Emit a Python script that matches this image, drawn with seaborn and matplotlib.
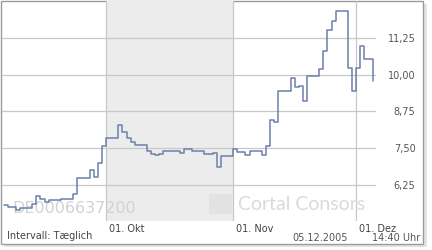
import matplotlib
matplotlib.use("Agg")
import matplotlib.pyplot as plt
import matplotlib.transforms as mtrans
from matplotlib.patches import Rectangle
import pandas as pd
import seaborn as sns

# ---- data ----
dates = ["2005-09-06", "2005-09-07", "2005-09-09", "2005-09-10", "2005-09-13",
         "2005-09-14", "2005-09-15", "2005-09-16", "2005-09-17", "2005-09-20",
         "2005-09-23", "2005-09-24", "2005-09-27", "2005-09-28", "2005-09-29",
         "2005-09-30", "2005-10-01", "2005-10-04", "2005-10-05", "2005-10-06",
         "2005-10-07", "2005-10-08", "2005-10-11", "2005-10-12", "2005-10-13",
         "2005-10-14", "2005-10-15", "2005-10-19", "2005-10-20", "2005-10-22",
         "2005-10-25", "2005-10-27", "2005-10-28", "2005-10-29", "2005-11-01",
         "2005-11-02", "2005-11-04", "2005-11-05", "2005-11-08", "2005-11-09",
         "2005-11-10", "2005-11-11", "2005-11-12", "2005-11-15", "2005-11-16",
         "2005-11-17", "2005-11-18", "2005-11-19", "2005-11-22", "2005-11-23",
         "2005-11-24", "2005-11-25", "2005-11-26", "2005-11-29", "2005-11-30",
         "2005-12-01", "2005-12-02", "2005-12-03", "2005-12-05"]
prices = [5.57, 5.50, 5.40, 5.47, 5.60,
          5.88, 5.77, 5.67, 5.74, 5.77,
          5.94, 6.49, 6.76, 6.52, 7.00,
          7.58, 7.85, 8.29, 8.05, 7.85,
          7.71, 7.61, 7.41, 7.30, 7.27,
          7.30, 7.41, 7.34, 7.47, 7.41,
          7.30, 7.34, 6.86, 7.24, 7.47,
          7.37, 7.27, 7.41, 7.27, 7.58,
          8.46, 8.39, 9.45, 9.89, 9.58,
          9.62, 9.11, 9.96, 10.20, 10.81,
          11.52, 11.83, 12.17, 10.23, 9.45,
          10.23, 10.98, 10.54, 9.79]
y_ticks = [6.25, 7.50, 8.75, 10.00, 11.25]
y_tick_labels = ["6,25", "7,50", "8,75", "10,00", "11,25"]
x_ticks = ["2005-10-01", "2005-11-01", "2005-12-01"]
x_tick_labels = ["01. Okt", "01. Nov", "01. Dez"]
shade_start, shade_end = "2005-10-01", "2005-11-01"
watermark_isin = "DE0006637200"
watermark_brand = "Cortal Consors"
footer_interval = "Intervall: Tæglich"
footer_date = "05.12.2005"
footer_time = "14:40 Uhr"

df = pd.DataFrame({"date": pd.to_datetime(dates), "price": prices})

sns.set_theme(style="white")
plt.rcParams["font.family"] = ["DejaVu Sans"]

W, H = 432, 250
fig = plt.figure(figsize=(W / 100, H / 100), dpi=100)
fig.patch.set_facecolor("white")

def fx(px):
    return px / W

def fy(py):
    return 1 - py / H

# outer card frame with shadow
fig.patches.append(Rectangle((fx(423), fy(247)), fx(4), (247 - 4) / H,
                             transform=fig.transFigure, facecolor="#e4e4e4",
                             edgecolor="none", zorder=-3))
fig.patches.append(Rectangle((fx(4), fy(247)), fx(423), 4 / H,
                             transform=fig.transFigure, facecolor="#e4e4e4",
                             edgecolor="none", zorder=-3))
fig.patches.append(Rectangle((fx(0.5), fy(243.5)), fx(422), 243 / H,
                             transform=fig.transFigure, facecolor="white",
                             edgecolor="#9a9a9a", linewidth=1.0, zorder=-2))

ax = fig.add_axes([fx(2), fy(221), fx(376 - 2), (221 - 1) / H])
ax.set_facecolor("none")
ax.set_zorder(1)

ax.axvspan(pd.Timestamp(shade_start), pd.Timestamp(shade_end),
           color="#ececec", zorder=0, lw=0)

# watermarks
ax.text(0.027, 0.055, watermark_isin, transform=ax.transAxes, fontsize=11.5,
        color="#d2d2d2", ha="left", va="center", zorder=1)
ax.text(0.632, 0.075, watermark_brand, transform=ax.transAxes, fontsize=14,
        family="Lato", color="#dadada", ha="left", va="center", zorder=1)
ax.add_patch(Rectangle((0.553, 0.03), 0.062, 0.095, transform=ax.transAxes,
                       facecolor="#e2e2e2", edgecolor="none", zorder=1))

sns.lineplot(data=df, x="date", y="price", ax=ax, drawstyle="steps-post",
             color="#6c80aa", linewidth=1.1, zorder=3)

ax.set_xlim(pd.Timestamp("2005-10-01") - pd.Timedelta(days=25.37),
            pd.Timestamp("2005-10-01") + pd.Timedelta(days=65.85))
ax.set_ylim(5.026, 12.508)

ax.set_xticks([pd.Timestamp(t) for t in x_ticks])
ax.set_xticklabels(x_tick_labels, ha="left", fontsize=7, color="#444444")
ax.set_yticks(y_ticks)
ax.set_yticklabels(y_tick_labels, ha="right", fontsize=7, color="#555555")
ax.yaxis.tick_right()
ax.tick_params(axis="y", length=0, pad=28.5)
ax.tick_params(axis="x", length=0, pad=2.5)
offset = mtrans.ScaledTranslation(3 / 100, 0, fig.dpi_scale_trans)
for lab in ax.get_xticklabels():
    lab.set_transform(lab.get_transform() + offset)

ax.grid(True, color="#c8c8c8", linewidth=0.9)
for line in ax.get_xgridlines() + ax.get_ygridlines():
    line.set_zorder(2)
for s in ax.spines.values():
    s.set_visible(False)
ax.set_xlabel("")
ax.set_ylabel("")
if ax.get_legend() is not None:
    ax.get_legend().remove()

fig.text(fx(7), fy(236), footer_interval, fontsize=7, color="#444444",
         ha="left", va="center")
fig.text(fx(348), fy(238), footer_date, fontsize=7, color="#555555",
         ha="right", va="center")
fig.text(fx(420), fy(238), footer_time, fontsize=7, color="#555555",
         ha="right", va="center")

fig.savefig("out.png", dpi=100, facecolor="white")
